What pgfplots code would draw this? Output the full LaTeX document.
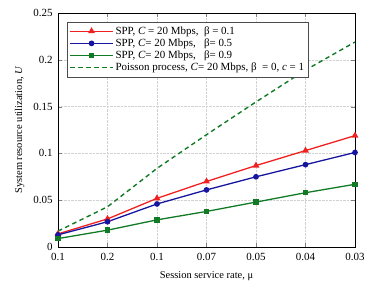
\documentclass[border=0pt]{standalone}
\usepackage{fontspec}
\setmainfont{Liberation Serif}
\usepackage{pgfplots}
\pgfplotsset{compat=1.18}
\definecolor{cred}{HTML}{F02020}
\definecolor{cblue}{HTML}{1515A0}
\definecolor{cgreen}{HTML}{117A25}
\begin{document}
\begin{tikzpicture}
\begin{axis}[
  scale only axis,
  width=297bp, height=234bp,
  xmin=0, xmax=6, ymin=0, ymax=0.25,
  xtick={0,1,2,3,4,5,6},
  xticklabels={0.1,0.2,0.1,0.07,0.05,0.04,0.03},
  ytick={0,0.05,0.1,0.15,0.2,0.25},
  yticklabels={0,0.05,0.1,0.15,0.2,0.25},
  tick align=inside,
  tick pos=both,
  grid=major,
  major grid style={densely dotted, gray!35},
  /pgf/number format/assume math mode=true,
  tick label style={font=\fontsize{11}{13}\selectfont},
  xticklabel style={yshift=-3pt},
  yticklabel style={xshift=-2pt},
  xlabel={Session service rate, μ},
  ylabel={System resource utilization, \textit{U}},
  label style={font=\fontsize{10.5}{12}\selectfont},
  xlabel style={yshift=-4pt},
  ylabel style={yshift=2pt},
  legend style={at={(0.03,0.962)}, anchor=north west, font=\fontsize{11}{13}\selectfont, draw=black!70, row sep=-1pt, inner sep=2.5pt, cells={anchor=west}},
  legend image code/.code={\draw[mark repeat=2,mark phase=2] plot coordinates {(0cm,0cm)(0.75cm,0cm)(1.5cm,0cm)};},
]
\addplot[cred, line width=1.3pt, mark=triangle*, mark size=2.7pt] coordinates {
(0,0.014)(1,0.030)(2,0.052)(3,0.070)(4,0.087)(5,0.103)(6,0.119)};
\addlegendentry{SPP, \textit{C} = 20 Mbps,\ \ β = 0.1}
\addplot[cblue, line width=1.3pt, mark=*, mark size=2.2pt] coordinates {
(0,0.013)(1,0.027)(2,0.046)(3,0.061)(4,0.075)(5,0.088)(6,0.101)};
\addlegendentry{SPP, \textit{C}= 20 Mbps,\ \ \ β= 0.5}
\addplot[cgreen, line width=1.3pt, mark=square*, mark size=2.1pt] coordinates {
(0,0.009)(1,0.018)(2,0.029)(3,0.038)(4,0.048)(5,0.058)(6,0.067)};
\addlegendentry{SPP, \textit{C}= 20 Mbps,\ \ \ β= 0.9}
\addplot[cgreen, line width=1.4pt, dashed, dash pattern=on 4.5pt off 3.5pt] coordinates {
(0,0.017)(1,0.043)(2,0.084)(3,0.120)(4,0.155)(5,0.189)(6,0.219)};
\addlegendentry{Poisson process, \textit{C}= 20 Mbps, β\ \ = 0, \textit{c} = 1}
\end{axis}
\pgfresetboundingbox
\path ([xshift=-58bp,yshift=-44bp]current axis.south west) rectangle ([xshift=19bp,yshift=13bp]current axis.north east);
\end{tikzpicture}
\end{document}
